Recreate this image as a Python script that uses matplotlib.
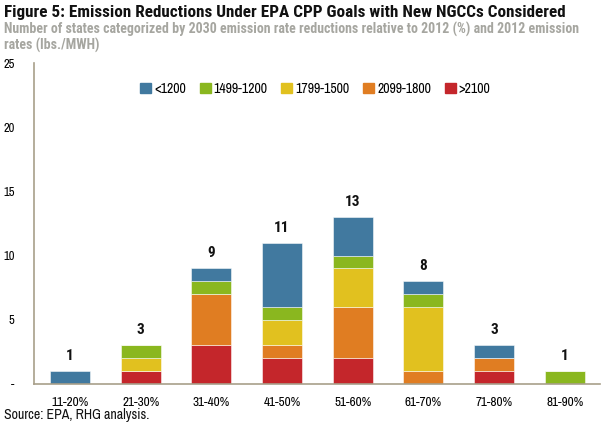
import matplotlib.pyplot as plt
import numpy as np
from matplotlib.patches import Patch

categories = ["11-20%", "21-30%", "31-40%", "41-50%", "51-60%", "61-70%", "71-80%", "81-90%"]
series_names = [">2100", "2099-1800", "1799-1500", "1499-1200", "<1200"]
s_gt2100 = [0, 1, 3, 2, 2, 0, 1, 0]
s_2099_1800 = [0, 0, 4, 1, 4, 1, 1, 0]
s_1799_1500 = [0, 1, 0, 2, 3, 5, 0, 0]
s_1499_1200 = [0, 1, 1, 1, 1, 1, 0, 1]
s_lt1200 = [1, 0, 1, 5, 3, 1, 1, 0]
totals_labels = ["1", "3", "9", "11", "13", "8", "3", "1"]
yticks = [0, 5, 10, 15, 20, 25]
ytick_labels = ["-", "5", "10", "15", "20", "25"]

colors = {">2100": "#C4262B", "2099-1800": "#E07D22", "1799-1500": "#E1C11F",
          "1499-1200": "#8AB71F", "<1200": "#41799F"}

bold_font = ["Roboto Condensed", "DejaVu Sans"]
reg_font = ["Archivo Narrow", "DejaVu Sans"]
plt.rcParams['font.family'] = reg_font

fig = plt.figure(figsize=(6.08, 4.30), dpi=100)
ax = fig.add_axes([34/608, 1-384/430, 566/608, 321/430])

x = np.arange(len(categories))
data = [s_gt2100, s_2099_1800, s_1799_1500, s_1499_1200, s_lt1200]
bottom = np.zeros(len(categories))
for name, vals in zip(series_names, data):
    v = np.array(vals, dtype=float)
    ax.bar(x, v, 0.57, bottom=bottom, color=colors[name], edgecolor=(1, 1, 1, 0.6), linewidth=0.6)
    bottom += v

for xi, tot, lab in zip(x, bottom, totals_labels):
    ax.text(xi, tot + 1.17, lab, ha='center', va='center', fontsize=11, fontweight='bold',
            family=bold_font, color='#111111')

ax.set_xlim(-0.51, 7.5)
ax.set_ylim(0, 25)
ax.set_yticks(yticks)
ax.set_yticklabels(ytick_labels, fontsize=9)
ax.set_xticks(x)
ax.set_xticklabels(categories, fontsize=9.5)
ax.tick_params(axis='both', length=0, pad=9)
ax.tick_params(axis='y', pad=14)
for s in ['top', 'right']:
    ax.spines[s].set_visible(False)
for s in ['left', 'bottom']:
    ax.spines[s].set_color('#A89F8A')
    ax.spines[s].set_linewidth(1.2)

handles = [Patch(color=colors[n]) for n in ["<1200", "1499-1200", "1799-1500", "2099-1800", ">2100"]]
labels = ["<1200", "1499-1200", "1799-1500", "2099-1800", ">2100"]
ax.legend(handles, labels, loc='center', bbox_to_anchor=(0.497, 0.92), ncol=5, frameon=False,
          fontsize=10, handlelength=0.8, handleheight=0.8, handletextpad=0.2, columnspacing=1.0)

fig.text(4/608, 1-12/430, "Figure 5: Emission Reductions Under EPA CPP Goals with New NGCCs Considered",
         fontsize=12.3, fontweight='bold', family=bold_font, va='center', ha='left', color='#111111')
fig.text(4/608, 1-29/430, "Number of states categorized by 2030 emission rate reductions relative to 2012 (%) and 2012 emission",
         fontsize=10, fontweight='bold', family=bold_font, va='center', ha='left', color='#A6A6A0')
fig.text(4/608, 1-45/430, "rates (lbs./MWH)",
         fontsize=10, fontweight='bold', family=bold_font, va='center', ha='left', color='#A6A6A0')
fig.text(4/608, 1-415/430, "Source: EPA, RHG analysis.", fontsize=10, family=reg_font,
         va='center', ha='left', color='#111111')

fig.savefig("out.png", dpi=100)
